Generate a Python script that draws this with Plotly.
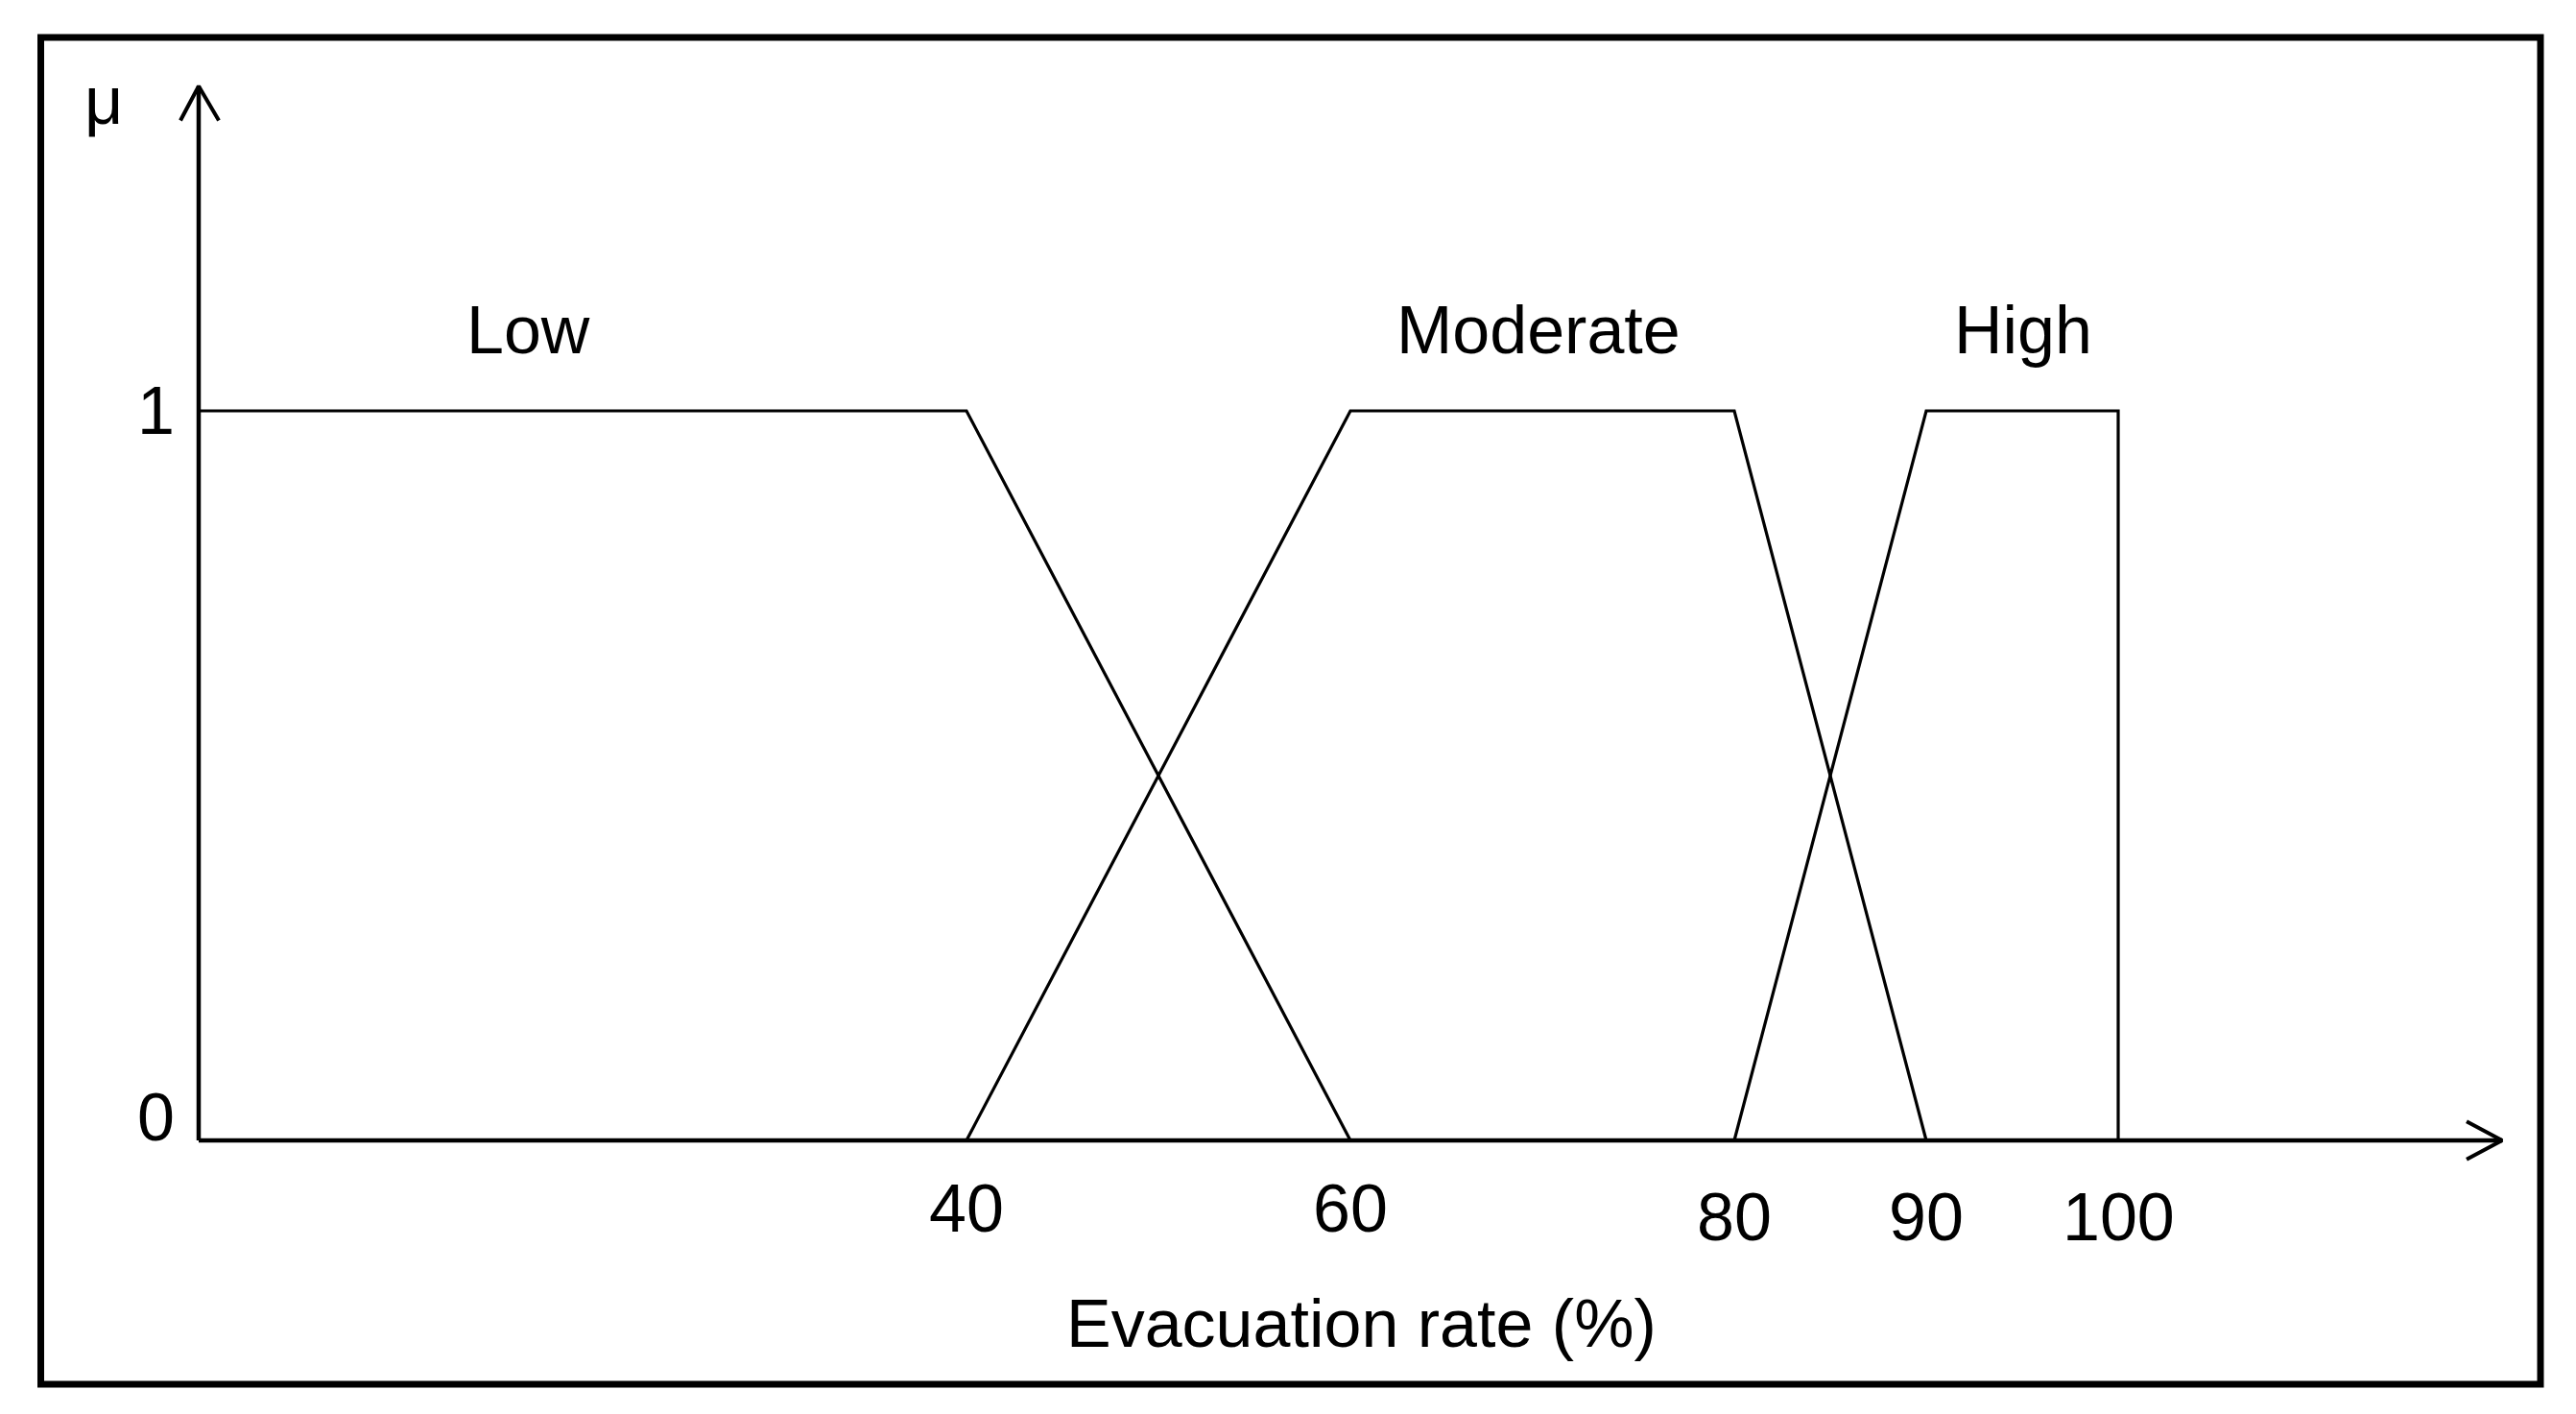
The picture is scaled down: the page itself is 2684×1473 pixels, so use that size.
import plotly.graph_objects as go

# ---- data ----
low_x = [0, 40, 60]
low_y = [1, 1, 0]
mod_x = [40, 60, 80, 90]
mod_y = [0, 1, 1, 0]
high_x = [80, 90, 100, 100]
high_y = [0, 1, 1, 0]

set_names = ["Low", "Moderate", "High"]
set_label_x = [17.15, 69.8, 95.05]

x_ticks = [40, 60, 80, 90, 100]
x_tick_labels = ["40", "60", "80", "90", "100"]
y_ticks = [0, 1]
y_tick_labels = ["0", "1"]

x_title = "Evacuation rate (%)"
y_title = "\u03bc"

X_AXIS_END = 120
Y_AXIS_END = 1.445

W, H = 2684, 1473
FONT = "Arial, Liberation Sans, sans-serif"
FS = 70

fig = go.Figure()

line_style = dict(color="black", width=3.2)
for xs, ys, nm in [(low_x, low_y, "Low"), (mod_x, mod_y, "Moderate"), (high_x, high_y, "High")]:
    fig.add_trace(go.Scatter(x=xs, y=ys, mode="lines", line=line_style, name=nm,
                             showlegend=False, hoverinfo="skip"))

# axes with arrows
ax_line = dict(color="black", width=4.5)
fig.add_shape(type="line", x0=0, y0=0, x1=X_AXIS_END, y1=0, line=ax_line)
fig.add_shape(type="line", x0=0, y0=0, x1=0, y1=Y_AXIS_END, line=ax_line)
# arrowheads (open V)
fig.add_trace(go.Scatter(x=[X_AXIS_END - 1.85, X_AXIS_END, X_AXIS_END - 1.85],
                         y=[0.026, 0, -0.026], mode="lines",
                         line=dict(color="black", width=4), showlegend=False, hoverinfo="skip"))
fig.add_trace(go.Scatter(x=[-0.95, 0, 1.05],
                         y=[Y_AXIS_END - 0.047, Y_AXIS_END, Y_AXIS_END - 0.047], mode="lines",
                         line=dict(color="black", width=4), showlegend=False, hoverinfo="skip"))

# outer frame
fig.add_shape(type="rect", xref="paper", yref="paper",
              x0=42.5 / W, x1=2647 / W, y0=1 - 1442 / H, y1=1 - 39 / H,
              line=dict(color="black", width=7))

font = dict(family=FONT, size=FS, color="black")

# set names
for nm, lx in zip(set_names, set_label_x):
    fig.add_annotation(x=lx, y=1.110, text=nm, showarrow=False, font=font,
                       xanchor="center", yanchor="middle")

# x tick labels
for v, t in zip(x_ticks, x_tick_labels):
    yy = -0.093 if v <= 60 else -0.105
    fig.add_annotation(x=v, y=yy, text=t, showarrow=False, font=font,
                       xanchor="center", yanchor="middle")

# y tick labels
for v, t in zip(y_ticks, y_tick_labels):
    yy = 0.032 if v == 0 else 1.0
    fig.add_annotation(x=-2.25, y=yy, text=t, showarrow=False, font=font,
                       xanchor="center", yanchor="middle")

fig.add_annotation(x=60.55, y=-0.251, text=x_title, showarrow=False, font=font,
                   xanchor="center", yanchor="middle")
fig.add_annotation(x=-4.95, y=1.425, text=y_title, showarrow=False, font=font,
                   xanchor="center", yanchor="middle")

fig.update_layout(
    width=W, height=H, autosize=False,
    margin=dict(l=0, r=0, t=0, b=0, pad=0),
    paper_bgcolor="white", plot_bgcolor="white",
    xaxis=dict(range=[-207 / 20, (W - 207) / 20], visible=False, fixedrange=True),
    yaxis=dict(range=[-(H - 1188) / 760, 1188 / 760], visible=False, fixedrange=True),
    showlegend=False,
)

fig.write_html("out.html", config={"displayModeBar": False},
               post_script="document.body.style.margin='0px';document.body.style.overflow='hidden';")
